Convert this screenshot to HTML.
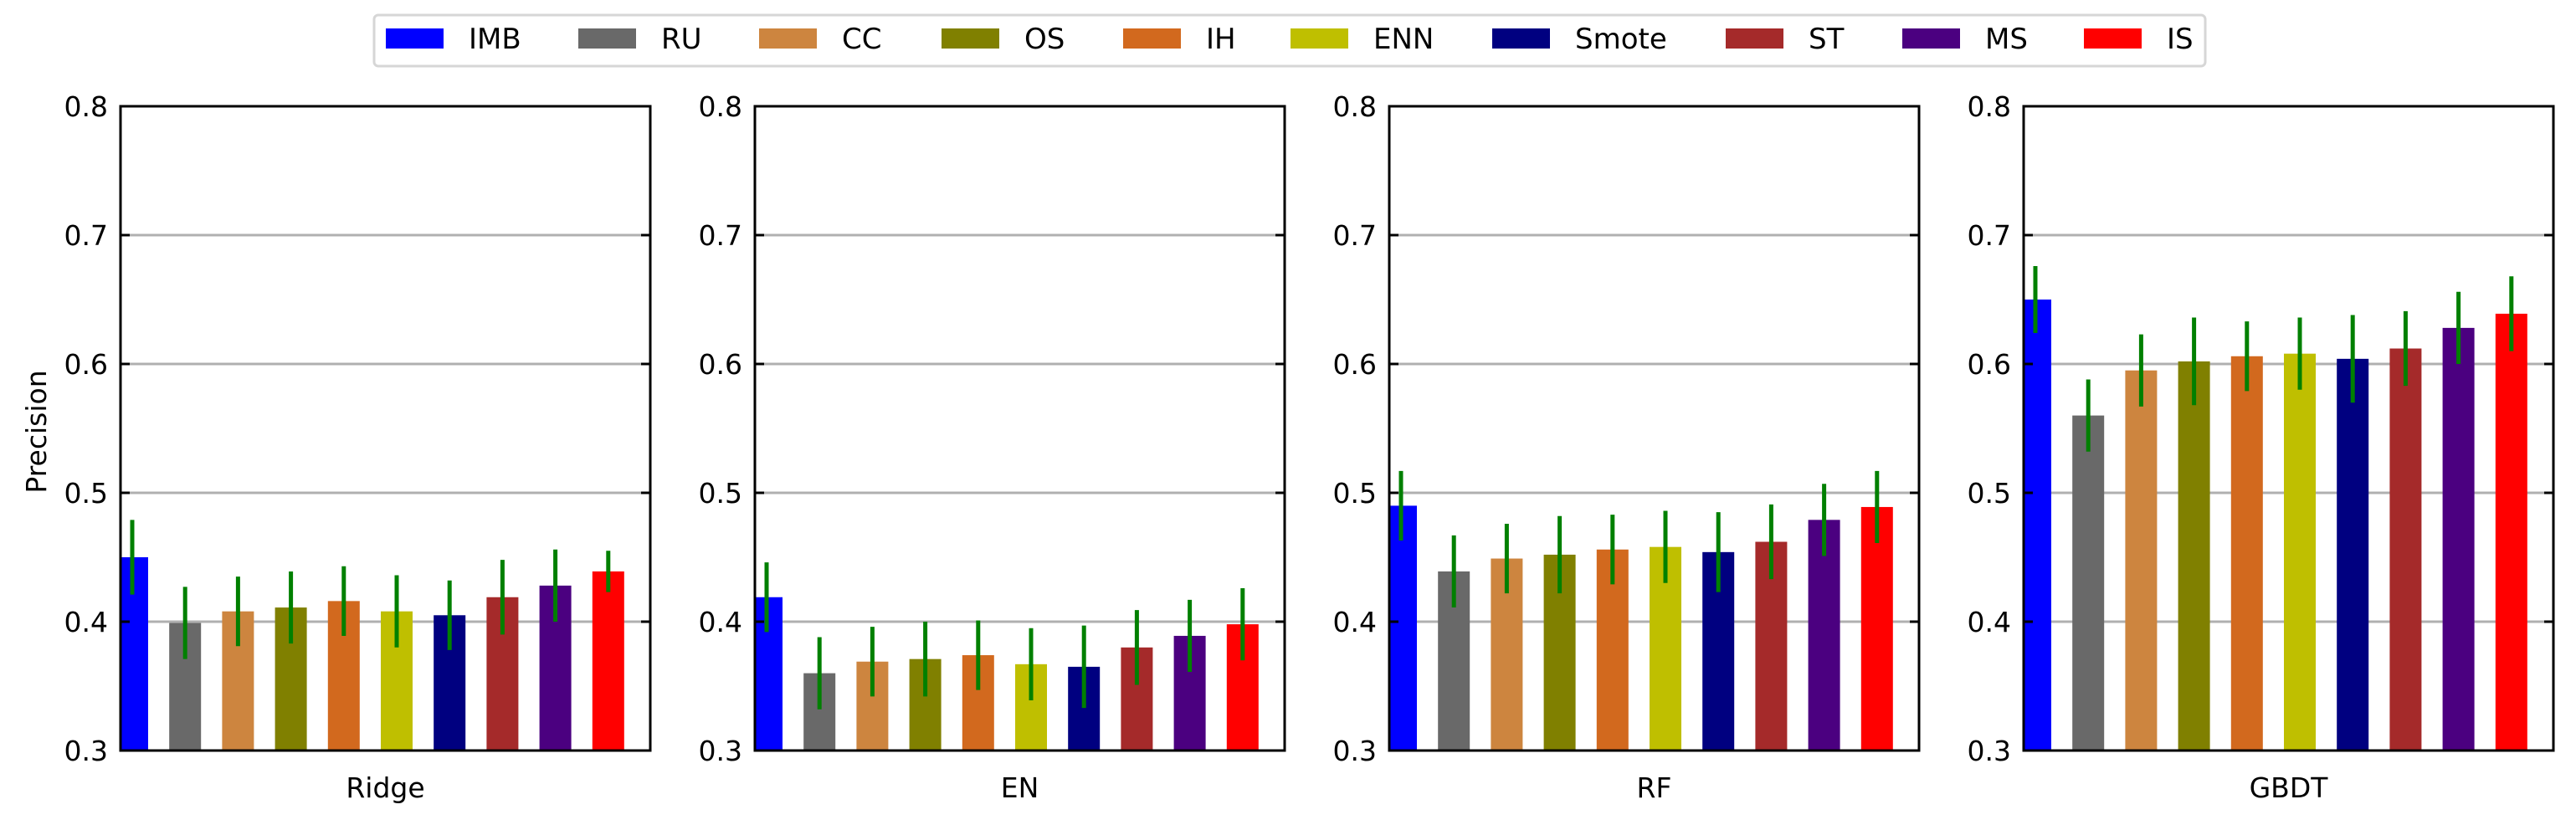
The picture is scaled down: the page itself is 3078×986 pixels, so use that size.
<!DOCTYPE html>
<html><head><meta charset="utf-8">
<style>
html,body{margin:0;padding:0;background:#fff;}
svg{display:block;font-family:"DejaVu Sans","Liberation Sans",sans-serif;}
</style></head>
<body>
<svg id="chart" width="3078" height="986" viewBox="0 0 3078 986" xmlns="http://www.w3.org/2000/svg"></svg>
<script>
const methods = ["IMB","RU","CC","OS","IH","ENN","Smote","ST","MS","IS"];
const colors = ["#0000ff","#696969","#cd853f","#808000","#d2691e","#bfbf00","#000080","#a52a2a","#4b0080","#ff0000"];
const models = ["Ridge","EN","RF","GBDT"];
const ridgeVals = [0.450,0.399,0.408,0.411,0.416,0.408,0.405,0.419,0.428,0.439];
const ridgeErr  = [0.029,0.028,0.027,0.028,0.027,0.028,0.027,0.029,0.028,0.016];
const enVals    = [0.419,0.360,0.369,0.371,0.374,0.367,0.365,0.380,0.389,0.398];
const enErr     = [0.027,0.028,0.027,0.029,0.027,0.028,0.032,0.029,0.028,0.028];
const rfVals    = [0.490,0.439,0.449,0.452,0.456,0.458,0.454,0.462,0.479,0.489];
const rfErr     = [0.027,0.028,0.027,0.030,0.027,0.028,0.031,0.029,0.028,0.028];
const gbdtVals  = [0.650,0.560,0.595,0.602,0.606,0.608,0.604,0.612,0.628,0.639];
const gbdtErr   = [0.026,0.028,0.028,0.034,0.027,0.028,0.034,0.029,0.028,0.029];
const yTicks = [0.3,0.4,0.5,0.6,0.7,0.8];
const yTickLabels = ["0.3","0.4","0.5","0.6","0.7","0.8"];

const allVals = [ridgeVals, enVals, rfVals, gbdtVals];
const allErr = [ridgeErr, enErr, rfErr, gbdtErr];

const NS = "http://www.w3.org/2000/svg";
const svg = document.getElementById("chart");
function mk(tag, attrs, parent){
  const e = document.createElementNS(NS, tag);
  for (const k in attrs) e.setAttribute(k, attrs[k]);
  (parent||svg).appendChild(e);
  return e;
}
const panelLefts = [144, 902, 1660, 2418];
const PW = 633, TOP = 127, BOT = 897;
const yMin = 0.3, yMax = 0.8;
function yScale(v){ return BOT - (v - yMin) / (yMax - yMin) * (BOT - TOP); }
function xScale(p, i){ return panelLefts[p] + 14 + 63.2 * i; }
const BW = 38;

models.forEach((m, p) => {
  const L = panelLefts[p], R = L + PW;
  const g = mk("g", {});
  
  
  const clipId = "clip" + p;
  const cp = mk("clipPath", {id: clipId}, g);
  mk("rect", {x: L, y: TOP, width: PW, height: BOT - TOP}, cp);
  // gridlines
  yTicks.forEach((t, k) => {
    if (t === yMin || t === yMax) return;
    const gl = mk("line", {x1: L + 11, x2: R - 11, y1: yScale(t), y2: yScale(t), stroke: "#b0b0b0", "stroke-width": 3}, g);
    
    
  });
  // bars
  const bg = mk("g", {"clip-path": "url(#" + clipId + ")"}, g);
  allVals[p].forEach((v, i) => {
    const cx = xScale(p, i);
    const r = mk("rect", {x: cx - BW/2, y: yScale(v), width: BW, height: yScale(yMin) - yScale(v), fill: colors[i]}, bg);
    
    
  });
  allVals[p].forEach((v, i) => {
    const cx = xScale(p, i), e = allErr[p][i];
    const eb = mk("line", {x1: cx, x2: cx, y1: yScale(v + e), y2: yScale(v - e), stroke: "#008000", "stroke-width": 5}, bg);
    
    
  });
  // ticks + labels
  yTicks.forEach((t, k) => {
    const y = yScale(t);
    mk("line", {x1: L, x2: L + 11, y1: y, y2: y, stroke: "#000", "stroke-width": 3}, g);
    mk("line", {x1: R - 11, x2: R, y1: y, y2: y, stroke: "#000", "stroke-width": 3}, g);
    const tl = mk("text", {x: L - 15, y: y + 12, "text-anchor": "end", "font-size": 33, fill: "#000"}, g);
    tl.textContent = yTickLabels[k];
    
    
  });
  const fr = mk("rect", {x: L, y: TOP, width: PW, height: BOT - TOP, fill: "none", stroke: "#000", "stroke-width": 3}, g);
  
  
  const xl = mk("text", {x: L + PW/2, y: 953, "text-anchor": "middle", "font-size": 33, fill: "#000"}, g);
  xl.textContent = m;
  
  
});

const yl = mk("text", {x: 0, y: 0, "text-anchor": "middle", "font-size": 33, fill: "#000", transform: "translate(55,516) rotate(-90)"});
yl.textContent = "Precision";



// legend
const lg = mk("g", {});


mk("rect", {x: 447, y: 18, width: 2188, height: 61, rx: 5, fill: "#fff", stroke: "#d6d6d6", "stroke-width": 3}, lg);
const patchX = [461, 691, 907, 1125, 1342, 1542, 1783, 2062, 2273, 2490];
methods.forEach((name, i) => {
  const eg = mk("g", {}, lg);
  
  
  mk("rect", {x: patchX[i], y: 34, width: 69, height: 24, fill: colors[i]}, eg);
  const t = mk("text", {x: patchX[i] + 99, y: 58, "font-size": 34, fill: "#000"}, eg);
  t.textContent = name;
});
</script>
</body></html>
